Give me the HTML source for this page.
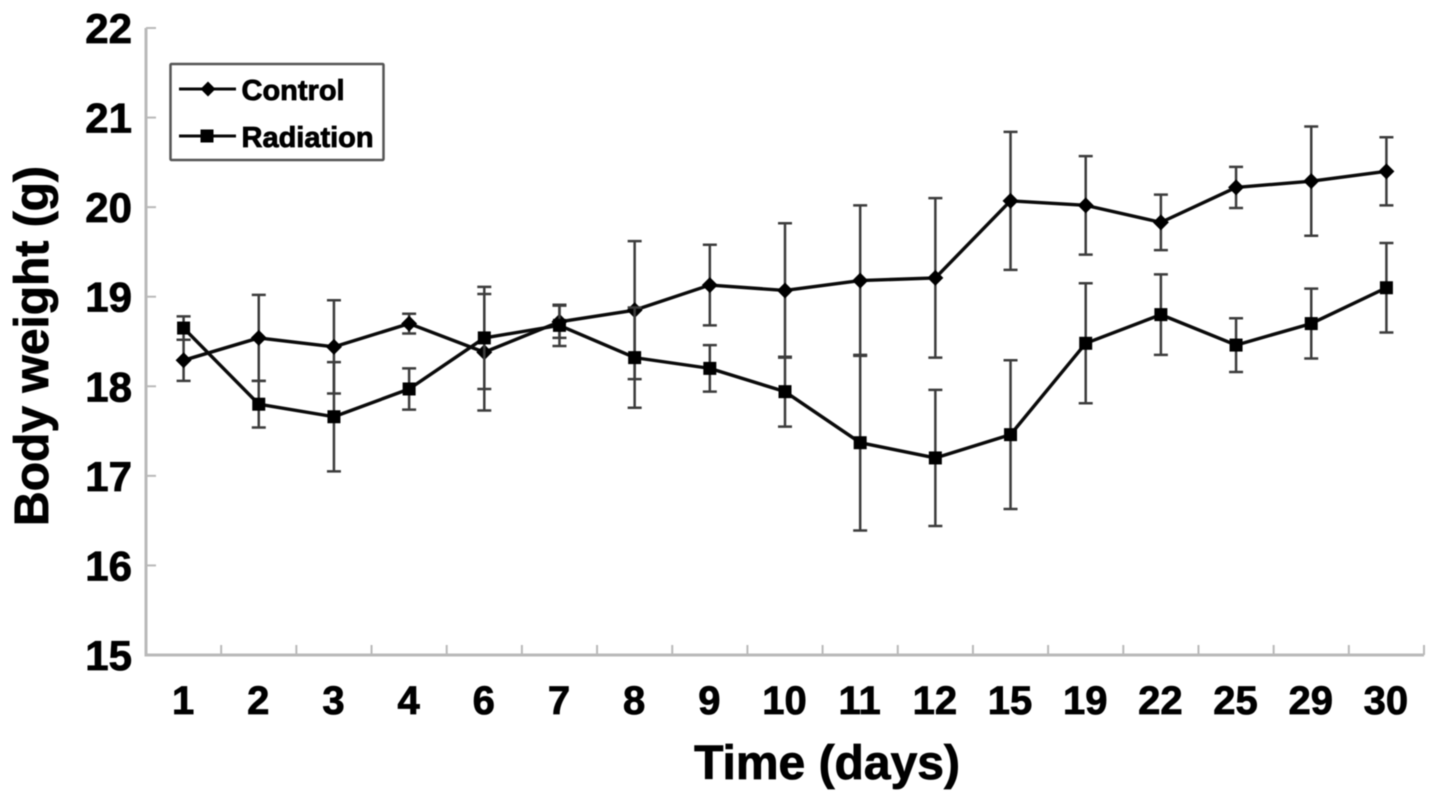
<!DOCTYPE html>
<html lang="en">
<head>
<meta charset="utf-8">
<title>Body weight over time</title>
<style>
html,body{margin:0;padding:0;background:#fff;width:1441px;height:801px;overflow:hidden}
svg{display:block;filter:blur(0.6px)}
text{font-family:"Liberation Sans",Arial,sans-serif;font-weight:bold;fill:#000;stroke:#000;stroke-width:0.8px}
</style>
</head>
<body>
<svg id="chart" xmlns="http://www.w3.org/2000/svg" width="1441" height="801" viewBox="0 0 1441 801"></svg>
<script>
const categories = ['1','2','3','4','6','7','8','9','10','11','12','15','19','22','25','29','30'];
const yTickLabels = [15,16,17,18,19,20,21,22];
const controlValues = [18.29,18.54,18.44,18.70,18.38,18.72,18.85,19.13,19.07,19.18,19.21,20.07,20.02,19.83,20.22,20.29,20.40];
const controlErrors = [0.23,0.48,0.52,0.11,0.65,0.18,0.77,0.45,0.75,0.84,0.89,0.77,0.55,0.31,0.23,0.61,0.38];
const radiationValues = [18.65,17.80,17.66,17.97,18.54,18.68,18.32,18.20,17.94,17.37,17.20,17.46,18.48,18.80,18.46,18.70,19.10];
const radiationErrors = [0.13,0.26,0.61,0.23,0.57,0.23,0.56,0.26,0.39,0.98,0.76,0.83,0.67,0.45,0.30,0.39,0.50];

const svg = document.getElementById('chart');
const NS = 'http://www.w3.org/2000/svg';
const left = 146, right = 1424, top_ = 28, bottom = 655;
const yMin = 15, yMax = 22;
function xBand(i){ return left + (right - left) * i / categories.length; }
function xScale(i){ return xBand(i + 0.5); }
function yScale(v){ return bottom - (v - yMin) / (yMax - yMin) * (bottom - top_); }
function make(tag, attrs, parent){
  const el = document.createElementNS(NS, tag);
  for (const k in attrs) el.setAttribute(k, attrs[k]);
  (parent || svg).appendChild(el);
  return el;
}
const AXIS = '#b9b9b9', INK = '#0a0a0a', ERR = '#3c3c3c';

/* axes */
const yAxis = make('line', {x1:left,x2:left,y1:top_,y2:bottom,stroke:AXIS,'stroke-width':3});


const xAxis = make('line', {x1:left-1.5,x2:right,y1:bottom,y2:bottom,stroke:AXIS,'stroke-width':3});



yTickLabels.forEach(function(t){
  const y = yScale(t);
  if (t > yMin) {
    const tick = make('line', {x1:left,x2:left+10,y1:y,y2:y,stroke:AXIS,'stroke-width':2});
    
    
  }
  const label = make('text', {x:132,y:y+15,'text-anchor':'end','font-size':42});
  label.textContent = t;
  
  
});

categories.forEach(function(c, i){
  const bx = xBand(i + 1);
  const tick = make('line', {x1:bx,x2:bx,y1:bottom-10,y2:bottom,stroke:AXIS,'stroke-width':2});
  
  
  const label = make('text', {x:xScale(i)-0.5,y:714,'text-anchor':'middle','font-size':40});
  label.textContent = c;
  
  
});

const xTitle = make('text', {x:827,y:779,'text-anchor':'middle','font-size':48});
xTitle.textContent = 'Time (days)';


const yTitle = make('text', {x:0,y:0,'text-anchor':'middle','font-size':48,transform:'translate(48 346) rotate(-90)'});
yTitle.textContent = 'Body weight (g)';



/* series */
function drawMarker(kind, x, y, parent, size){
  if (kind === 'diamond') {
    return make('path', {d:'M'+x+' '+(y-size)+'L'+(x+size)+' '+y+'L'+x+' '+(y+size)+'L'+(x-size)+' '+y+'Z',fill:'#000'}, parent);
  }
  return make('rect', {x:x-size,y:y-size,width:size*2,height:size*2,fill:'#000'}, parent);
}
function drawSeries(name, values, errors, kind, size){
  const g = make('g', {});
  
  
  values.forEach(function(v, i){
    const x = xScale(i), hi = yScale(v + errors[i]), lo = yScale(v - errors[i]);
    const d = 'M'+x+' '+hi+'V'+lo+'M'+(x-7)+' '+hi+'H'+(x+7)+'M'+(x-7)+' '+lo+'H'+(x+7);
    const bar = make('path', {d:d,stroke:ERR,'stroke-width':2.5,fill:'none'}, g);
    
    
  });
  const pts = values.map(function(v, i){ return xScale(i) + ',' + yScale(v); }).join(' ');
  const line = make('polyline', {points:pts,fill:'none',stroke:INK,'stroke-width':3.4,'stroke-linejoin':'round'}, g);
  
  
  values.forEach(function(v, i){
    const m = drawMarker(kind, xScale(i), yScale(v), g, size);
    
    
  });
}
drawSeries('control', controlValues, controlErrors, 'diamond', 8);
drawSeries('radiation', radiationValues, radiationErrors, 'square', 6.5);

/* legend */
const legend = make('g', {});


const box = make('rect', {x:170.5,y:64,width:213,height:96,fill:'#fff',stroke:'#555','stroke-width':2.5,rx:1}, legend);


const ctrlLine = make('line', {x1:179,x2:236,y1:89,y2:89,stroke:INK,'stroke-width':3}, legend);


const ctrlMark = drawMarker('diamond', 208, 89, legend, 7.5);


const ctrlText = make('text', {x:241.5,y:100,'font-size':29}, legend);
ctrlText.textContent = 'Control';


const radLine = make('line', {x1:179,x2:236,y1:136,y2:136,stroke:INK,'stroke-width':3}, legend);


const radMark = drawMarker('square', 207, 136, legend, 6.5);


const radText = make('text', {x:241.5,y:147,'font-size':29}, legend);
radText.textContent = 'Radiation';


</script>
</body>
</html>
